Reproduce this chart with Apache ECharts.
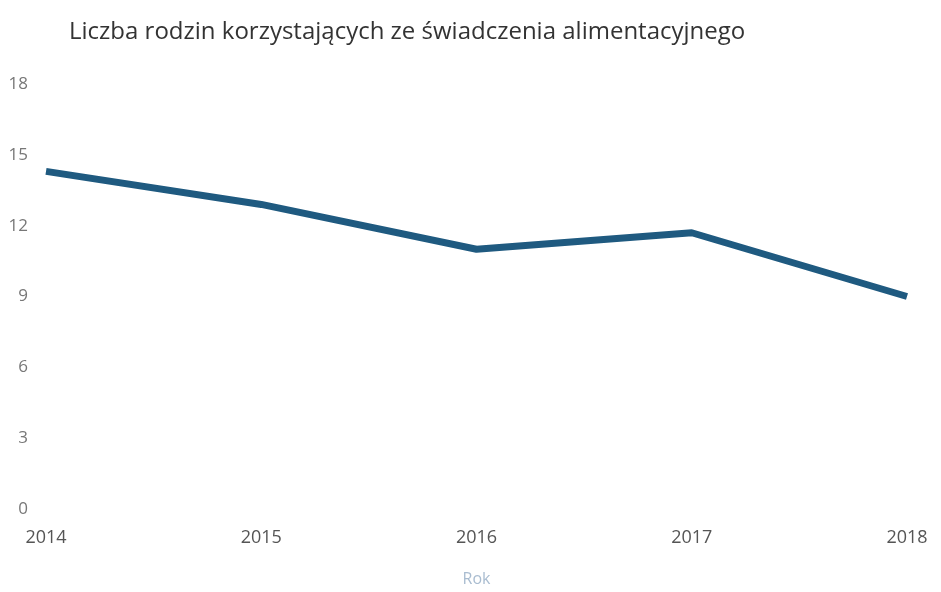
<!DOCTYPE html>
<html>
<head>
<meta charset="utf-8">
<script src="https://cdn.jsdelivr.net/npm/echarts@6/dist/echarts.min.js"></script>
<style>
  html, body { margin: 0; padding: 0; background: #fff; }
  #chart { width: 941px; height: 592px; }
</style>
</head>
<body>
<div id="chart"></div>
<script>
// Liczba rodzin (w tys.) korzystających ze świadczenia alimentacyjnego
const years = ['2014', '2015', '2016', '2017', '2018'];
const families = [14.3, 12.9, 11.0, 11.7, 9.0];
const yTicks = { min: 0, max: 18, interval: 3 };

const chart = echarts.init(document.getElementById('chart'));
chart.setOption({
  backgroundColor: '#ffffff',
  animation: false,
  title: {
    text: 'Liczba rodzin korzystających ze świadczenia alimentacyjnego',
    left: 64,
    top: 15,
    textStyle: {
      fontFamily: 'Open Sans',
      fontWeight: 'normal',
      fontSize: 24,
      color: '#333333'
    }
  },
  grid: { left: 46, right: 34, top: 84, bottom: 80 },
  xAxis: {
    type: 'category',
    data: years,
    boundaryGap: false,
    name: 'Rok',
    nameLocation: 'middle',
    nameGap: 62,
    nameTextStyle: { color: '#a9bcd0', fontFamily: 'Open Sans', fontSize: 16 },
    axisLine: { show: false },
    axisTick: { show: false },
    axisLabel: {
      color: '#555555',
      fontFamily: 'Open Sans',
      fontSize: 18,
      margin: 20
    }
  },
  yAxis: {
    type: 'value',
    min: yTicks.min,
    max: yTicks.max,
    interval: yTicks.interval,
    splitLine: { show: false },
    axisLine: { show: false },
    axisTick: { show: false },
    axisLabel: {
      color: '#777777',
      fontFamily: 'Open Sans',
      fontSize: 17,
      margin: 18
    }
  },
  series: [{
    type: 'line',
    data: families,
    symbol: 'none',
    lineStyle: { color: '#1f5a80', width: 7 }
  }]
});
</script>
</body>
</html>
